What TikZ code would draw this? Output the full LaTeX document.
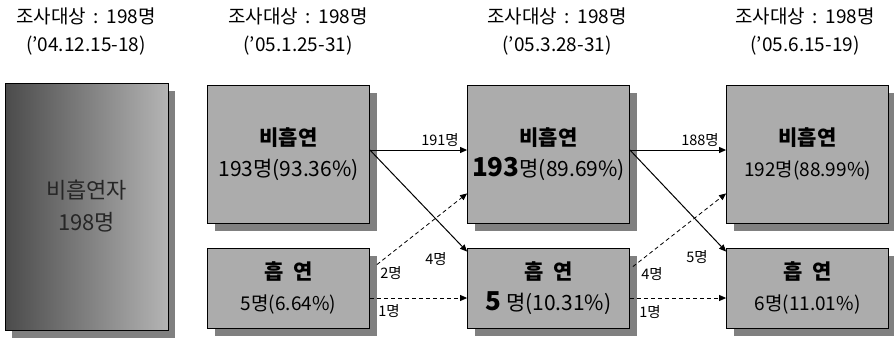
\documentclass[tikz,border=0pt]{standalone}
\usepackage{fontspec}
\setmainfont{Noto Sans CJK KR}
\usetikzlibrary{arrows.meta,shadows}
\definecolor{boxfill}{RGB}{172,172,172}
\definecolor{boxshadow}{RGB}{128,128,128}
\definecolor{darkfill}{RGB}{75,75,75}
\definecolor{lightfill}{RGB}{180,180,180}
\tikzset{
  stagebox/.style={draw=black, line width=0.8pt, fill=boxfill, minimum width=162pt,
    minimum height=138pt, inner sep=0pt, align=center,
    drop shadow={shadow xshift=7pt, shadow yshift=-8pt, fill=boxshadow, opacity=1}},
  lowbox/.style={stagebox, minimum height=80pt},
  title/.style={align=center, font=\fontsize{19}{28}\selectfont},
  flowlabel/.style={font=\fontsize{14.5}{14.5}\selectfont, inner sep=1pt},
  solidflow/.style={line width=1pt, -{Triangle[length=7pt,width=6pt]}},
  dashflow/.style={line width=0.8pt, dash pattern=on 4pt off 3pt, -{Triangle[length=7pt,width=6pt]}},
  big/.style={font=\fontsize{21}{31}\selectfont},
}
\newcommand{\surveyhead}{조사대상\ \,:\ \,198명}
\begin{document}
\begin{tikzpicture}[x=1pt,y=-1pt]
\useasboundingbox (0,0) rectangle (894,338);
% titles
\node[title] (t1) at (86,32) {\surveyhead\\('04.12.15-18)};
\node[title] (t2) at (298,32) {\surveyhead\\('05.1.25-31)};
\node[title] (t3) at (557,32) {\surveyhead\\('05.3.28-31)};
\node[title] (t4) at (805,32) {\surveyhead\\('05.6.15-19)};
% boxes
\node[stagebox, minimum width=163pt, minimum height=247pt, left color=darkfill, right color=lightfill,
  text=black!85, font=\fontsize{22}{32}\selectfont] (b0) at (86.5,206.5) {비흡연자\\198명};
\node[stagebox, big] (b1) at (288.5,154) {{\bfseries 비흡연}\\193명(93.36\%)};
\node[lowbox, big] (b2) at (288.5,288) {{\bfseries 흡\ \ 연}\\{\fontsize{19}{19}\selectfont 5명(6.64\%)}};
\node[stagebox, big] (b3) at (548.5,154) {{\bfseries 비흡연}\\{\fontsize{26}{26}\selectfont\bfseries 193}명(89.69\%)};
\node[lowbox, big] (b4) at (548.5,288) {{\bfseries 흡\ \ 연}\\{\fontsize{26}{26}\selectfont\bfseries 5} 명(10.31\%)};
\node[stagebox, big] (b5) at (807.5,154) {{\bfseries 비흡연}\\{\fontsize{19}{19}\selectfont 192명(88.99\%)}};
\node[lowbox, big] (b6) at (807.5,288) {{\bfseries 흡\ \ 연}\\{\fontsize{19}{19}\selectfont 6명(11.01\%)}};
% flows first stage
\draw[solidflow] ([yshift=4pt]b1.east) -- ([yshift=4pt]b3.west);
\draw[solidflow] ([yshift=4pt]b1.east) -- ([yshift=-4pt]b4.north west);
\draw[dashflow] ([xshift=7pt,yshift=-17pt]b2.north east) -- ([yshift=30pt]b3.south west);
\draw[dashflow] ([yshift=-10pt]b2.east) -- ([yshift=-10pt]b4.west);
\node[flowlabel] (l191) at (440,140) {191명};
\node[flowlabel] (l4a) at (436,259) {4명};
\node[flowlabel] (l2a) at (391,273) {2명};
\node[flowlabel] (l1a) at (389,311) {1명};
% flows second stage
\draw[solidflow] ([yshift=4pt]b3.east) -- ([yshift=4pt]b5.west);
\draw[solidflow] ([yshift=4pt]b3.east) -- ([yshift=-4pt]b6.north west);
\draw[dashflow] ([xshift=3pt,yshift=-19pt]b4.north east) -- ([yshift=30pt]b5.south west);
\draw[dashflow] ([yshift=-10pt]b4.east) -- ([yshift=-10pt]b6.west);
\node[flowlabel] (l188) at (700,140) {188명};
\node[flowlabel] (l5b) at (697,257) {5명};
\node[flowlabel] (l4b) at (652,274) {4명};
\node[flowlabel] (l1b) at (650,312) {1명};
\end{tikzpicture}
\end{document}
